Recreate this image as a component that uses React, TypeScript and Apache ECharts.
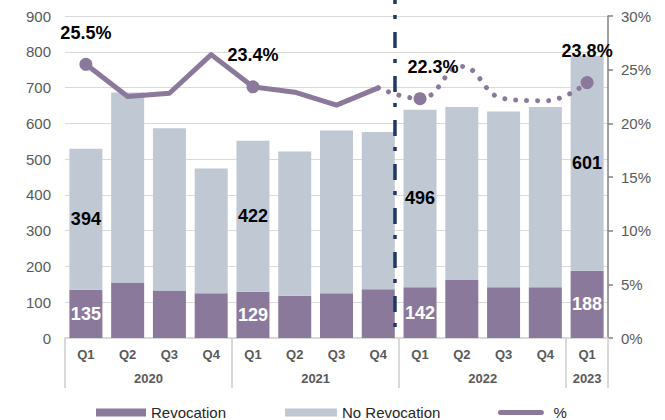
import React, { useEffect, useRef } from 'react';
import * as echarts from 'echarts';

const quarters = ['Q1', 'Q2', 'Q3', 'Q4', 'Q1', 'Q2', 'Q3', 'Q4', 'Q1', 'Q2', 'Q3', 'Q4', 'Q1'];
const years = ['2020', '2021', '2022', '2023'];
const yearBounds = [0, 4, 8, 12, 13];
const revocation = [135, 155, 133, 125, 129, 118, 125, 136, 142, 162, 142, 142, 188];
const noRevocation = [394, 531, 453, 349, 422, 403, 455, 440, 496, 484, 491, 504, 601];
const pctActual = [25.5, 22.5, 22.8, 26.4, 23.4, 22.9, 21.7, 23.3, null, null, null, null, null];
const pctOutlook = [null, null, null, null, null, null, null, 23.3, 22.3, 25.3, 22.3, 22.1, 23.8];
const labeledIdx = [0, 4, 8, 12];
const dividerAt = 7.9;

const FONT = "'Liberation Sans', Arial, Helvetica, sans-serif";
const PURPLE = '#8b799c';
const GREYBLUE = '#c0c8d4';
const AXIS_GREY = '#d9d9d9';
const TEXT_GREY = '#595959';

export default function App() {
  const ref = useRef<HTMLDivElement>(null);

  useEffect(() => {
    document.body.style.margin = '0';
    if (!ref.current) return;
    const chart = echarts.init(ref.current, undefined, { renderer: 'svg' });

    const yearCenters = years.map((_, i) => (yearBounds[i] + yearBounds[i + 1]) / 2);

    const lineItem = (v: number | null, i: number, offsetX = 0) => {
      if (v === null) return null;
      if (!labeledIdx.includes(i)) return v;
      return {
        value: v,
        symbol: 'circle',
        symbolSize: 13,
        label: {
          show: true,
          position: 'top',
          distance: 16,
          offset: [offsetX, 0],
          formatter: (p: any) => `${p.value}%`,
          fontFamily: FONT,
          fontWeight: 'bold',
          fontSize: 18,
          color: '#000',
        },
      };
    };

    const legendText = { fontFamily: FONT, fontSize: 15, color: '#262626', lineHeight: 15 };
    const legendBase = { top: 405, padding: 0, itemGap: 0 };

    const option: any = {
      animation: false,
      textStyle: { fontFamily: FONT },
      grid: { left: 65, right: 57, top: 16, bottom: 82, containLabel: false },
      legend: [
        {
          ...legendBase,
          data: ['Revocation'],
          left: 96,
          itemWidth: 50,
          itemHeight: 8,
          icon: 'rect',
          textStyle: legendText,
        },
        {
          ...legendBase,
          data: ['No Revocation'],
          left: 285,
          itemWidth: 52,
          itemHeight: 8,
          icon: 'rect',
          textStyle: legendText,
        },
        {
          ...legendBase,
          data: [{ name: '%', icon: 'path://M3,0 L52,0 A3,3 0 0 1 52,6 L3,6 A3,3 0 0 1 3,0 Z' }],
          left: 498,
          itemWidth: 55,
          itemHeight: 5,
          textStyle: legendText,
        },
      ],
      xAxis: [
        {
          type: 'category',
          data: quarters,
          position: 'bottom',
          axisLine: { show: true, lineStyle: { color: AXIS_GREY, width: 2 } },
          axisTick: { show: false },
          axisLabel: {
            interval: 0,
            margin: 10,
            fontFamily: FONT,
            fontSize: 13,
            fontWeight: 'bold',
            color: TEXT_GREY,
          },
        },
        {
          type: 'value',
          min: 0,
          max: quarters.length,
          position: 'bottom',
          offset: 0,
          splitLine: { show: false },
          axisLine: { show: false },
          axisTick: {
            show: true,
            customValues: yearBounds,
            length: 50,
            lineStyle: { color: AXIS_GREY, width: 2 },
          },
          axisLabel: {
            show: true,
            customValues: yearCenters,
            margin: 34,
            formatter: (v: number) => {
              const idx = yearCenters.findIndex((c) => Math.abs(c - v) < 1e-6);
              return idx >= 0 ? years[idx] : '';
            },
            fontFamily: FONT,
            fontSize: 13,
            fontWeight: 'bold',
            color: TEXT_GREY,
          },
        },
      ],
      yAxis: [
        {
          type: 'value',
          min: 0,
          max: 900,
          interval: 100,
          axisLine: { show: false },
          axisTick: { show: false },
          splitLine: { show: true, lineStyle: { color: AXIS_GREY, width: 1 } },
          axisLabel: { margin: 14, fontFamily: FONT, fontSize: 15, color: TEXT_GREY },
        },
        {
          type: 'value',
          min: 0,
          max: 30,
          interval: 5,
          position: 'right',
          axisLine: { show: true, lineStyle: { color: '#808080', width: 1.5 } },
          axisTick: { show: true, inside: false, length: 5, lineStyle: { color: '#808080', width: 1.5 } },
          splitLine: { show: false },
          axisLabel: {
            margin: 13,
            formatter: '{value}%',
            fontFamily: FONT,
            fontSize: 15,
            color: TEXT_GREY,
          },
        },
      ],
      series: [
        {
          name: 'Revocation',
          type: 'bar',
          stack: 'total',
          barCategoryGap: '21%',
          itemStyle: { color: PURPLE },
          data: revocation.map((v, i) =>
            labeledIdx.includes(i)
              ? {
                  value: v,
                  label: {
                    show: true,
                    position: 'inside',
                    formatter: '{c}',
                    fontFamily: FONT,
                    fontWeight: 'bold',
                    fontSize: 18,
                    color: '#fff',
                  },
                }
              : v
          ),
        },
        {
          name: 'No Revocation',
          type: 'bar',
          stack: 'total',
          barCategoryGap: '21%',
          itemStyle: { color: GREYBLUE },
          data: noRevocation.map((v, i) =>
            labeledIdx.includes(i)
              ? {
                  value: v,
                  label: {
                    show: true,
                    position: 'inside',
                    formatter: '{c}',
                    fontFamily: FONT,
                    fontWeight: 'bold',
                    fontSize: 18,
                    color: '#000',
                  },
                }
              : v
          ),
        },
        {
          name: '%',
          type: 'line',
          yAxisIndex: 1,
          symbol: 'none',
          z: 5,
          itemStyle: { color: PURPLE },
          lineStyle: { color: PURPLE, width: 5, cap: 'round', join: 'round' },
          data: pctActual.map((v, i) => lineItem(v, i)),
        },
        {
          name: '%',
          type: 'line',
          yAxisIndex: 1,
          symbol: 'none',
          smooth: 0.45,
          z: 5,
          itemStyle: { color: PURPLE },
          lineStyle: { color: PURPLE, width: 5, type: [0.01, 11], cap: 'round' },
          data: pctOutlook.map((v, i) => (i === 7 ? v : lineItem(v, i, i === 8 ? 13 : 0))),
        },
      ],
    };

    chart.setOption(option);

    const x = chart.convertToPixel({ xAxisIndex: 1 } as any, dividerAt) as number;
    const yBottom = chart.convertToPixel({ yAxisIndex: 0 } as any, 0) as number;
    if (typeof x === 'number' && isFinite(x)) {
      chart.setOption({
        graphic: [
          {
            type: 'line',
            z: 20,
            shape: { x1: x, y1: 0, x2: x, y2: yBottom },
            style: {
              stroke: '#1f3864',
              lineWidth: 3.5,
              lineDash: [16, 11, 4, 13],
              lineDashOffset: 12,
            },
          },
        ],
      });
    }

    return () => chart.dispose();
  }, []);

  return <div ref={ref} style={{ width: 665, height: 420 }} />;
}
